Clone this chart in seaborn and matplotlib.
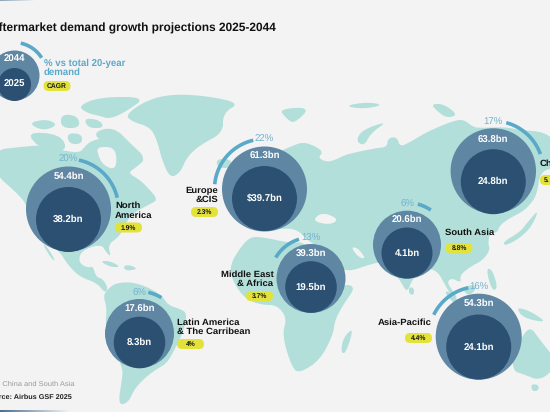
import numpy as np
import pandas as pd
import matplotlib
matplotlib.use("Agg")
import matplotlib.pyplot as plt
from matplotlib.patches import FancyBboxPatch
import seaborn as sns

# values
regions = ["North America", "Europe & CIS", "China", "South Asia",
           "Middle East & Africa", "Latin America", "Asia-Pacific"]
demand_2044 = [54.4, 61.3, 63.8, 20.6, 39.3, 17.6, 54.3]
demand_2025 = [38.2, 39.7, 24.8, 4.1, 19.5, 8.3, 24.1]
share_pct = [20, 22, 17, 6, 13, 6, 16]
cagr_labels = ["1.9%", "2.3%", "5.", "8.8%", "3.7%", "4%", "4.4%"]
prefix_2025 = ["", "$", "", "", "", "", ""]

# layout in pixels: bubble centres and radii
outer_x = [68.5, 264.5, 493.3, 407, 311, 139.5, 478.7]
outer_y = [209, 189, 171, 244.7, 278.5, 333.5, 336.7]
outer_r = [42.5, 42.5, 42.7, 34, 34.5, 34.5, 43]
inner_y = [219.5, 198.5, 181.7, 253, 287, 342.5, 347]
inner_r = [32.5, 32.5, 32.5, 25.5, 25.8, 25.8, 32.5]
arc_start = [12, -13, 15, 15, -17, 12, -12]
arc_dir = [1, -1, 1, 1, -1, 1, -1]
arc_r = [50, 50, 50, 42, 41, 42, 50]

BG = "#f3f3f3"
LAND = "#b2dfd9"
OUTER = "#5f86a3"
INNER = "#2c5071"
ARC = "#5aa9c9"
PCT = "#73b3d0"
PILL = "#e3e23b"

# map outlines, rough pixel traces of the background
north_america = [(-6,150),(20,147),(43,145),(60,150),(80,153),(85,146),(93,140),(107,138),(120,147),
                 (133,152),(146,159),(135,168),(128,173),(140,180),(150,190),(158,200),(148,205),
                 (130,215),(122,232),(117,238),(108,245),(111,257),(106,252),(102,245),(90,247),
                 (80,253),(79,263),(88,268),(93,266),(96,277),(103,279),(108,288),(105,293),(97,283),
                 (80,277),(68,265),(60,252),(50,245),(40,240),(27,205),(17,193),(-6,173)]
hudson = [(97,147),(113,147),(117,157),(115,170),(103,165),(98,155)]
baja = [(42,243),(48,248),(56,262),(51,258)]
cuba = [(100,261),(110,261),(121,267),(110,267)]
hispaniola = [(123,266),(130,265),(138,269),(126,271)]
south_america = [(103,295),(110,287),(117,283),(132,282),(150,288),(163,297),(168,305),(180,309),
                 (187,313),(184,330),(175,349),(167,363),(157,369),(147,376),(135,388),(128,403),
                 (118,405),(122,379),(123,368),(105,327),(107,308)]
greenland = [(125,115),(147,100),(173,94),(207,96),(240,103),(223,113),(223,133),(200,145),(187,157),
             (180,173),(170,178),(162,160),(157,140),(150,127),(133,122)]
ellesmere = [(78,106),(100,97),(146,97),(127,111),(110,119),(100,116),(87,113)]
arctic_a = [(28,123),(47,119),(58,125),(43,131)]
arctic_b = [(61,114),(78,116),(80,128),(61,128)]
arctic_d = [(84,118),(100,120),(104,128),(88,128)]
baffin = [(90,134),(113,126),(132,145),(146,158),(133,163),(118,151)]
victoria = [(25,132),(60,134),(68,151),(43,151)]
arctic_c = [(67,133),(82,134),(82,144),(69,144)]
iceland = [(216,159),(231,159),(231,168),(218,168)]
svalbard = [(279,109),(311,107),(294,124),(286,118)]
franz_josef = [(344,106),(367,102),(384,105),(363,109)]
severnaya = [(431,104),(444,104),(458,115),(447,118),(437,111)]
novaya = [(356,141),(362,130),(388,121),(371,133),(364,146)]
eurasia = [(245,229),(225,190),(260,160),(292,146),(303,142),(315,146),(323,152),(318,158),(327,162),
           (335,160),(345,155),(357,152),(377,148),(387,147),(388,138),(397,137),(400,147),(410,142),
           (417,138),(427,132),(450,122),(463,119),(473,127),(480,128),(505,127),(520,130),(545,132),
           (556,143),(556,167),(540,172),(537,195),(528,207),(520,213),(510,218),(500,225),(497,233),
           (490,232),(488,243),(490,250),(483,260),(470,267),(460,275),(461,283),(452,278),(447,282),
           (452,290),(458,299),(452,297),(444,283),(438,272),(428,268),(420,272),(412,280),(407,293),
           (400,280),(385,262),(374,263),(345,273),(335,260),(305,238),(300,232),(290,228),(270,230)]
black_sea = [(312,221),(322,212),(339,219),(330,225)]
gulf = [(351,247),(358,248),(366,259),(358,257)]
africa = [(250,237),(262,237),(290,243),(305,242),(320,262),(335,285),(357,285),(343,305),(335,320),
          (333,335),(320,360),(300,373),(292,368),(282,335),(287,318),(277,305),(262,305),(245,299),
          (232,280),(230,265),(240,248)]
madagascar = [(354,327),(346,353),(341,353),(343,338)]
sri_lanka = [(409,287),(414,288),(414,295),(409,294)]
japan = [(503,242),(520,232),(527,223),(539,209),(532,226),(520,238),(505,246)]
philippines = [(486,269),(492,269),(498,288),(492,291)]
sumatra = [(447,290),(461,303),(456,305),(445,294)]
borneo = [(462,288),(474,284),(476,290),(468,296)]
new_guinea = [(516,307),(530,311),(548,323),(523,318)]
australia = [(520,340),(530,326),(540,340),(556,360),(556,367),(540,381),(523,374),(513,371),(512,350)]
tasmania = [(531,384),(539,385),(538,391),(532,391)]

land_shapes = [north_america, baja, cuba, hispaniola, south_america, greenland, ellesmere, arctic_a,
               arctic_b, arctic_c, arctic_d, baffin, victoria, iceland, svalbard, franz_josef, severnaya,
               novaya, eurasia, africa, madagascar, sri_lanka, japan, philippines, sumatra, borneo,
               new_guinea, australia, tasmania]
water_shapes = [hudson, black_sea, gulf]

sns.set_theme(style="white")
plt.rcParams["font.family"] = ["Liberation Sans", "DejaVu Sans"]
plt.rcParams["text.hinting"] = "none"

fig = plt.figure(figsize=(5.5, 4.12), dpi=100, facecolor=BG)
ax = fig.add_axes([0, 0, 1, 1], facecolor=BG)
ax.set_axis_off()


def px_size(r):
    # scatter area in points^2 for a radius in pixels
    return (2 * np.asarray(r) * 72 / fig.dpi) ** 2


def smooth(shape, rounds=2):
    # corner cutting so the coasts are not so angular
    pts = np.array(shape, dtype=float)
    for _ in range(rounds):
        nxt = np.roll(pts, -1, axis=0)
        pts = np.column_stack([0.75 * pts + 0.25 * nxt, 0.25 * pts + 0.75 * nxt]).reshape(-1, 2)
    return pts


def bubbles(xs, ys, rs, color, z):
    frame = pd.DataFrame({"x": xs, "y": ys})
    sns.scatterplot(data=frame, x="x", y="y", s=px_size(rs), color=color, linewidth=0,
                    legend=False, zorder=z, ax=ax)


def arc(cx, cy, r, start, sweep, sign):
    t = np.radians(start + sign * np.linspace(0, sweep, 40))
    ax.plot(cx + r * np.sin(t), cy - r * np.cos(t), color=ARC, lw=2.6,
            solid_capstyle="butt", zorder=3)


def pill(cx, cy, label):
    ax.add_patch(FancyBboxPatch((cx - 13.5, cy - 5), 27, 10, boxstyle="round,pad=0,rounding_size=5",
                                fc=PILL, ec="none", zorder=5))
    ax.text(cx, cy + 0.2, label, ha="center", va="center", fontsize=4.9, fontweight="bold",
            color="#1a1a1a", zorder=6)


for shape in land_shapes:
    pts = smooth(shape)
    ax.fill(pts[:, 0], pts[:, 1], color=LAND, lw=0, zorder=1)
for shape in water_shapes:
    pts = smooth(shape)
    ax.fill(pts[:, 0], pts[:, 1], color=BG, lw=0, zorder=1.5)

# legend bubble in the corner
bubbles([14], [75], [25], OUTER, 2)
bubbles([14], [84], [16.5], INNER, 2.5)
arc(14, 75, 32.5, 12, 46, 1)

bubbles(outer_x, outer_y, outer_r, OUTER, 2)
bubbles(outer_x, inner_y, inner_r, INNER, 2.5)

white = dict(ha="center", va="center", color="white", fontweight="bold", fontsize=6.9, zorder=6)
pct_style = dict(ha="center", va="center", color=PCT, fontsize=6.9, zorder=6)
label_style = dict(va="center", color="#111111", fontweight="bold", fontsize=6.8, zorder=6)

ax.text(14, 59, "2044", **white)
ax.text(14, 84.5, "2025", **white)
ax.text(43.5, 63, "% vs total 20-year", ha="left", va="center", color=ARC, fontweight="bold", fontsize=6.9)
ax.text(43.5, 72.7, "demand", ha="left", va="center", color=ARC, fontweight="bold", fontsize=6.9)
pill(57, 86, "CAGR")

pct_offset = [50, 50, 49, 40.7, 40.5, 40.2, 49.7]
top_offset = [33, 33.3, 32, 25.4, 25.2, 25.2, 33]
for i, region in enumerate(regions):
    cx, cy = outer_x[i], outer_y[i]
    arc(cx, cy, arc_r[i], arc_start[i], share_pct[i] * 3.25, arc_dir[i])
    ax.text(cx, cy - pct_offset[i], f"{share_pct[i]}%", **pct_style)
    ax.text(cx, cy - top_offset[i], f"{demand_2044[i]}bn", **white)
    ax.text(cx, inner_y[i], f"{prefix_2025[i]}{demand_2025[i]}bn", **white)

ax.text(115, 205.7, "North", ha="left", **label_style)
ax.text(115, 216, "America", ha="left", **label_style)
pill(128.5, 227.5, cagr_labels[0])
ax.text(218.5, 190.7, "Europe", ha="right", **label_style)
ax.text(218.5, 200, "&CIS", ha="right", **label_style)
pill(204.5, 212, cagr_labels[1])
ax.text(540, 164, "China", ha="left", **label_style)
ax.text(544, 180.2, cagr_labels[2], ha="left", va="center", fontsize=4.9, fontweight="bold", color="#1a1a1a", zorder=6)
ax.add_patch(FancyBboxPatch((540, 175), 27, 10, boxstyle="round,pad=0,rounding_size=5",
                            fc=PILL, ec="none", zorder=5))
ax.text(445.3, 232.7, "South Asia", ha="left", **label_style)
pill(459, 248, cagr_labels[3])
ax.text(273.3, 274.3, "Middle East", ha="right", **label_style)
ax.text(273.3, 283.7, "& Africa", ha="right", **label_style)
pill(259.5, 296, cagr_labels[4])
ax.text(177.3, 322.3, "Latin America", ha="left", **label_style)
ax.text(177.3, 331.7, "& The Carribean", ha="left", **label_style)
pill(190.5, 344, cagr_labels[5])
ax.text(431.7, 322.7, "Asia-Pacific", ha="right", **label_style)
pill(418.5, 338, cagr_labels[6])

ax.text(275.5, 28.5, "Aftermarket demand growth projections 2025-2044", ha="right", va="center",
        fontsize=8.6, fontweight="bold", color="#111111")
ax.text(74, 383.7, "to China and South Asia", ha="right", va="center", fontsize=5.4, color="#9a9a9a")
ax.text(71.7, 396.7, "Source: Airbus GSF 2025", ha="right", va="center", fontsize=5.2,
        fontweight="bold", color="#222222")

# faint gradient strips left over from the page
fade = np.linspace(1, 0, 64).reshape(1, -1)
strip = matplotlib.colors.LinearSegmentedColormap.from_list("strip", [BG, "#4d6f8e"])
ax.imshow(fade, cmap=strip, extent=(0, 70, 412, 410), aspect="auto", zorder=7)
ax.imshow(fade * 0.6, cmap=strip, vmin=0, vmax=1, extent=(0, 35, 1, 0), aspect="auto", zorder=7)

ax.set_xlim(0, 550)
ax.set_ylim(412, 0)
fig.savefig("out.png", dpi=100, facecolor=BG)
